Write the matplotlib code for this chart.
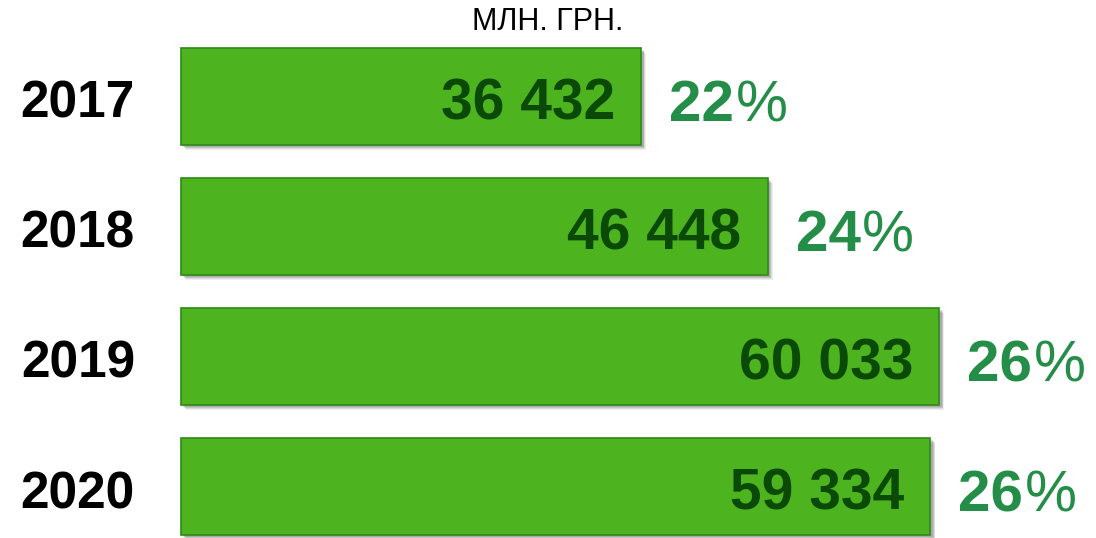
import matplotlib
matplotlib.use("Agg")
import matplotlib.pyplot as plt
import matplotlib.patheffects as pe
from matplotlib.offsetbox import TextArea, HPacker, AnnotationBbox

years = ["2017", "2018", "2019", "2020"]
values = [36432, 46448, 60033, 59334]
value_labels = ["36 432", "46 448", "60 033", "59 334"]
shares = [22, 24, 26, 26]
unit = "МЛН. ГРН."

plt.rcParams['font.family'] = ['Liberation Sans', 'DejaVu Sans']

fig = plt.figure(figsize=(10.96, 5.38), dpi=100)
ax = fig.add_axes([0, 0, 1, 1])
ax.set_xlim(-14330, 72450)
ax.set_ylim(3.396, -0.742)
ax.axis('off')

pos = list(range(len(years)))
bars = ax.barh(pos, values, height=0.746, color='#4DB31F', edgecolor='#2E8A18',
               linewidth=1.2)
shadow = []
for k, (o, a) in enumerate([(4.5, 0.08), (3.8, 0.10), (3.0, 0.14), (2.2, 0.16)]):
    shadow.append(pe.SimplePatchShadow(offset=(o * 0.8, -o * 0.8), shadow_rgbFace='#333333', alpha=a))
for b in bars:
    b.set_path_effects(shadow + [pe.Normal()])

pct_color = '#248E48'
for i, (v, vl, s, y) in enumerate(zip(values, value_labels, shares, years)):
    ax.annotate(vl, xy=(v, i), xytext=(-26, -8), textcoords='offset pixels',
                ha='right', va='center', fontsize=41, fontweight='bold', color='#0B4A06')
    ax.annotate(y, xy=(0, i), xytext=(-46, -8), textcoords='offset pixels',
                ha='right', va='center', fontsize=37, fontweight='bold', color='black')
    t1 = TextArea(str(s), textprops=dict(fontsize=42, fontweight='bold', color=pct_color))
    t2 = TextArea("%", textprops=dict(fontsize=42, fontweight='normal', color=pct_color))
    pack = HPacker(children=[t1, t2], sep=1, pad=0, align='baseline')
    ab = AnnotationBbox(pack, (v, i), xybox=(28, -10), boxcoords='offset pixels',
                        box_alignment=(0, 0.5), frameon=False, pad=0)
    ax.add_artist(ab)

fig.text(0.5, 1 - 22 / 538, unit, ha='center', va='center', fontsize=22, color='black')

fig.savefig("out.png", dpi=100)
